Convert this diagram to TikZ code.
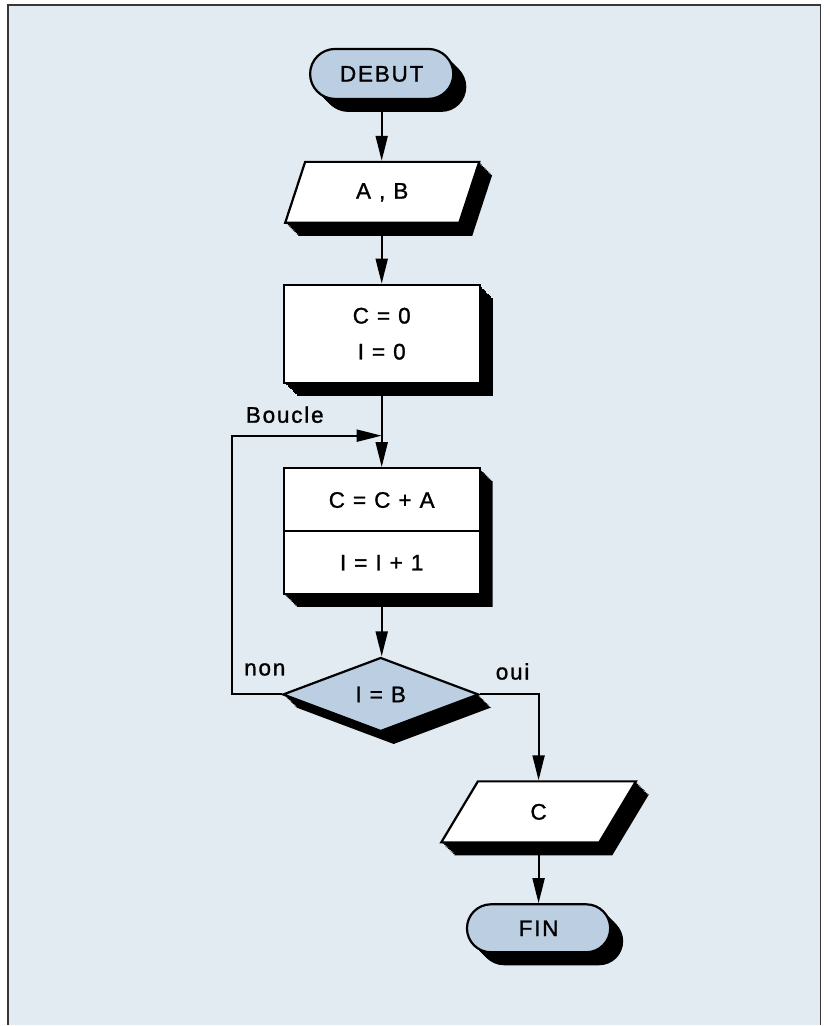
\documentclass[tikz,border=0pt]{standalone}
\usepackage{fontspec}
\setmainfont{Liberation Sans}[LetterSpace=8,FakeBold=1.2]
\usetikzlibrary{arrows.meta,shapes.geometric,shapes.misc,shapes.multipart,shadows}
\definecolor{papier}   {RGB}{226,235,241}
\definecolor{bleuBoite}{RGB}{188,206,226}
\definecolor{cadre}    {RGB}{55, 55, 55}

\begin{document}
\begin{tikzpicture}[x=1pt,y=-1pt,
    every node/.style={font=\fontsize{22.5}{36}\selectfont},
    ep/.style={general shadow={fill=black,shadow xshift=#1,shadow yshift=-#1}},
    relief/.style={ep=1.3pt,ep=2.6pt,ep=3.9pt,ep=5.2pt,ep=6.5pt,
                   ep=7.8pt,ep=9.1pt,ep=10.4pt,ep=11.7pt,ep=13pt},
    borne/.style={rounded rectangle,draw,line width=2.2pt,fill=bleuBoite,
                  relief,minimum width=150pt,minimum height=50pt},
    entree/.style={trapezium,trapezium left angle=73,trapezium right angle=107,
                   trapezium stretches=true,draw,line width=2.2pt,fill=white,
                   relief,minimum width=195pt,minimum height=61pt},
    calcul/.style={rectangle,draw,line width=2.2pt,fill=white,relief,
                   minimum width=196pt},
    choix/.style={diamond,aspect=2.6,inner sep=0pt,draw,line width=2.2pt,
                  fill=bleuBoite,relief,minimum width=196pt,minimum height=74pt},
    fleche/.style={-{Triangle[length=25pt,width=12pt]},line width=2pt}]

        % Fond et cadre
        \fill[white] (0,0) rectangle (830,1026);
        \fill[papier] (8,5) rectangle (821,1026);
        \draw[cadre,line width=1.6pt] (8,1026) -- (8,5) -- (821,5) -- (821,1026);

        % Boites
        \node[borne] (debut) at (382,74) {DEBUT};
        \node[entree] (ab) at (382.5,192.5) {A , B};
        \node[calcul,minimum height=98pt,align=center] (init) at (382,334)
          {C = 0\\I = 0};
        \node[calcul,rectangle split,rectangle split parts=2,
              text height=16pt,text depth=0pt,inner ysep=22.5pt] (boucle) at (382,531.5)
          {C = C + A\nodepart{two}I = I + 1};
        \node[choix] (test) at (381,695) {I = B};
        \node[entree] (sortie) at (539,812.5) {C};
        \node[borne,minimum height=48pt] (fin) at (539,929) {FIN};

        % Labels
        \node (lboucle) at (285,415) {Boucle};
        \node (lnon) at (265,670) {non};
        \node (loui) at (513,672) {oui};

        % Fleches
        \coordinate (jonction) at (382,436);
        \coordinate (retour) at (232,436);
        \draw[fleche] (debut.south) -- (debut.south |- ab.north);
        \draw[fleche] (ab.south -| init.north) -- (init.north);
        \draw[fleche] (init.south) -- (boucle.north);
        \draw[fleche] (boucle.south) -- (boucle.south |- test.north);
        \draw[fleche] (test.west) -| (retour) -- (jonction);
        \draw[fleche] (test.east) -| (fin.north |- sortie.north);
        \draw[fleche] (sortie.south -| fin.north) -- (fin.north);
\end{tikzpicture}
\end{document}
